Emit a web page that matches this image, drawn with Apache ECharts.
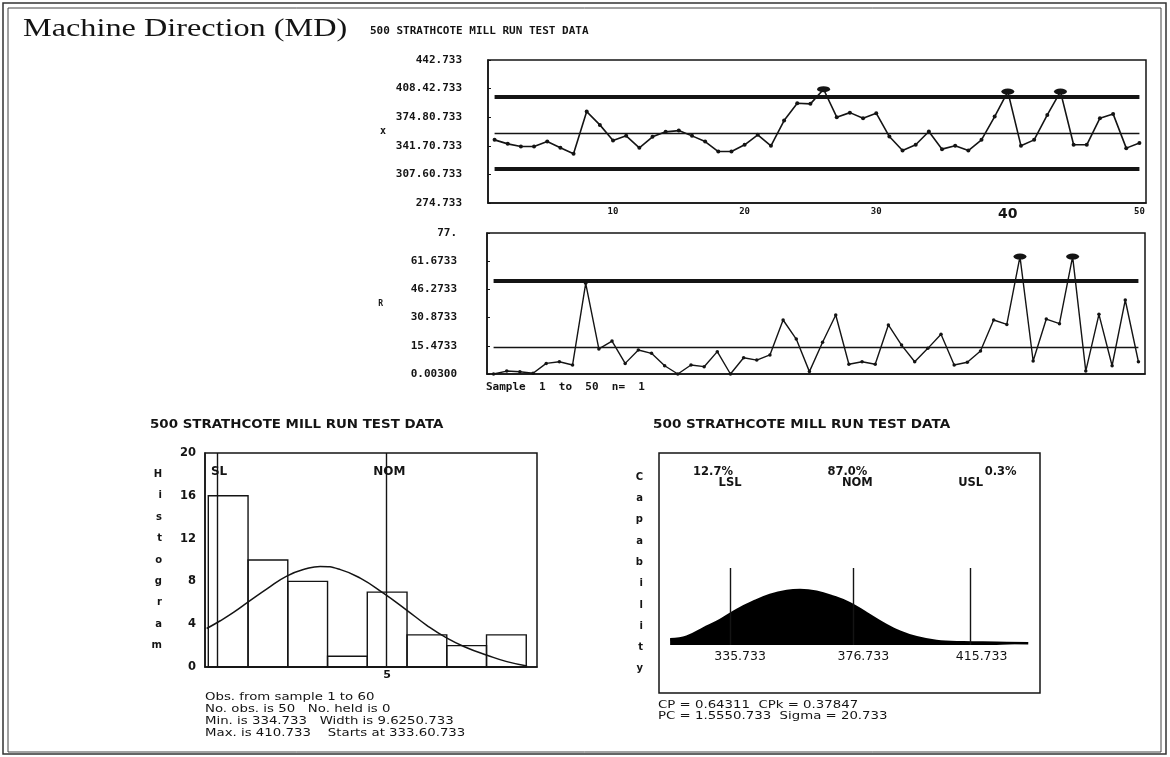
<!DOCTYPE html>
<html>
<head>
<meta charset="utf-8">
<script src="https://cdn.jsdelivr.net/npm/echarts@6/dist/echarts.min.js"></script>
<style>
html, body { margin: 0; padding: 0; background: #fff; }
#chart { width: 1170px; height: 757px; }
</style>
</head>
<body>
<div id="chart"></div>
<script>
// ---- Individuals (X) chart ----
const sampleNo = ['1','2','3','4','5','6','7','8','9','10','11','12','13','14','15','16','17','18','19','20',
  '21','22','23','24','25','26','27','28','29','30','31','32','33','34','35','36','37','38','39','40',
  '41','42','43','44','45','46','47','48','49','50'];
const xValues = [348.9, 344.2, 341.1, 341.1, 346.9, 339.6, 332.5, 382.1, 366.5, 348.1,
  353.6, 339.6, 352.5, 358.3, 359.8, 353.6, 346.9, 335.2, 335.2, 343.1,
  354.8, 341.9, 371.6, 391.9, 391.2, 408.4, 375.6, 380.9, 374.4, 380.2,
  352.8, 336.4, 343.1, 358.7, 338.0, 341.9, 336.4, 348.9, 376.3, 405.6,
  341.9, 348.9, 378.2, 405.6, 343.1, 343.1, 374.4, 379.4, 339.2, 345.1];
const xLimits = { ucl: 399.3, cl: 357.1, lcl: 314.9 };
const xTickValues = [274.733, 308.333, 341.933, 375.533, 409.133, 442.733];
const xTickLabels = ['274.733', '307.60.733', '341.70.733', '374.80.733', '408.42.733', '442.733'];

// ---- Moving range (R) chart ----
const mrValues = [0, 1.6, 1.2, 0.4, 5.8, 6.7, 4.9, 49.5, 13.7, 18.0,
  5.8, 13.1, 11.3, 4.5, 0, 4.9, 4.0, 12.2, 0, 8.9,
  7.6, 10.4, 29.5, 19.1, 1.3, 17.3, 32.2, 5.3, 6.7, 5.3,
  26.8, 15.8, 6.7, 14.0, 21.7, 4.9, 6.4, 12.6, 29.5, 27.1,
  64.1, 7.1, 30.0, 27.5, 64.1, 1.6, 32.6, 4.5, 40.4, 6.7];
const rLimits = { ucl: 50.8, cl: 14.5 };
const rTickValues = [0, 15.4, 30.8, 46.2, 61.6, 77];
const rTickLabels = ['0.00300', '15.4733', '30.8733', '46.2733', '61.6733', '77.'];

// ---- Histogram ----
const histStart = 333.60;
const histWidth = 9.625;
const histCounts = [16, 10, 8, 1, 7, 3, 2, 3];
const fitCurveX = [333.2, 336.4, 339.7, 343.7, 347.8, 352.6, 357.5, 360.7, 365.6, 370.4,
  376.0, 381.7, 386.5, 391.4, 396.2, 401.1, 405.9, 410.8];
const fitCurveY = [3.6, 4.3, 5.1, 6.2, 7.3, 8.5, 9.2, 9.4, 9.1, 8.3,
  6.9, 5.3, 3.9, 2.7, 1.8, 1.1, 0.5, 0.1];

// ---- Specification limits ----
const specLSL = 335.733;
const specNOM = 376.733;
const specUSL = 415.733;
const specPct = ['12.7%', '87.0%', '0.3%'];

// ---- Capability curve ----
const capX = [315.8, 321.3, 326.9, 332.4, 337.9, 343.5, 349.0, 354.6, 359.0, 364.5,
  370.1, 375.6, 381.2, 386.7, 392.2, 397.8, 404.4, 413.3, 424.4, 434.9];
const capH = [5.7, 8.3, 16.7, 25, 35, 43.3, 50, 54, 55, 53.3,
  48.3, 41.7, 31.7, 21.7, 13.3, 7.7, 4, 2.7, 2.3, 1.7];

const statsLines = [
  'Obs. from sample 1 to 60',
  'No. obs. is 50   No. held is 0',
  'Min. is 334.733   Width is 9.6250.733',
  'Max. is 410.733    Starts at 333.60.733'
];
const capLines = [
  'CP = 0.64311  CPk = 0.37847',
  'PC = 1.5550.733  Sigma = 20.733'
];
const chartTitle = '500 STRATHCOTE MILL RUN TEST DATA';

const INK = '#141414';
const MONO = '"DejaVu Sans Mono", monospace';
const SANS = '"DejaVu Sans", sans-serif';

function tickLabel(values, labels) {
  return function (v) {
    let best = 0;
    for (let i = 1; i < values.length; i++) {
      if (Math.abs(values[i] - v) < Math.abs(values[best] - v)) best = i;
    }
    return labels[best];
  };
}

function hLine(cat0, cat1, y, width) {
  return [{ coord: [cat0, y], lineStyle: { width: width, color: INK, type: 'solid' } }, { coord: [cat1, y] }];
}

function vLine(x, y0, y1) {
  return [{ coord: [x, y0] }, { coord: [x, y1] }];
}

const chart = echarts.init(document.getElementById('chart'), null, { renderer: 'canvas' });

// plain text; sx stretches the glyphs horizontally (the printout uses wide type)
const textEl = (x, y, text, font, sx) => ({
  type: 'text', x: x, y: y, scaleX: sx || 1, silent: true,
  style: { text: text, font: font, fill: INK, textAlign: 'left', textVerticalAlign: 'middle' }
});

const graphic = [
  { type: 'rect', shape: { x: 3, y: 3, width: 1163, height: 751 }, style: { fill: 'none', stroke: '#333', lineWidth: 1.5 }, silent: true },
  { type: 'rect', shape: { x: 8, y: 8, width: 1153, height: 744 }, style: { fill: 'none', stroke: '#444', lineWidth: 1 }, silent: true },
  textEl(23, 29, 'Machine Direction (MD)', '25px "Liberation Serif", serif', 1.29),
  textEl(370, 31, chartTitle, 'bold 11px ' + MONO),
  textEl(486, 387, 'Sample  1  to  50  n=  1', 'bold 11px ' + MONO),
  textEl(150, 425, chartTitle, 'bold 11.5px ' + SANS, 1.165),
  textEl(653, 425, chartTitle, 'bold 11.5px ' + SANS, 1.18)
];
statsLines.forEach((t, i) => graphic.push(textEl(205, 697 + i * 12, t, '11px ' + SANS, 1.21)));
capLines.forEach((t, i) => graphic.push(textEl(658, 705 + i * 11.5, t, '11px ' + SANS, 1.21)));

const markFont = { color: INK, fontFamily: SANS, fontSize: 11.5, fontWeight: 'bold' };

const option = {
  animation: false,
  backgroundColor: '#fff',
  graphic: graphic,
  grid: [
    { left: 488, top: 60, width: 658, height: 143, show: true, borderColor: INK, borderWidth: 1.5, backgroundColor: 'transparent' },
    { left: 487, top: 233, width: 658, height: 141, show: true, borderColor: INK, borderWidth: 1.5, backgroundColor: 'transparent' },
    { left: 205, top: 453, width: 332, height: 214, show: true, borderColor: INK, borderWidth: 1.5, backgroundColor: 'transparent' },
    { left: 659, top: 453, width: 381, height: 240, show: true, borderColor: INK, borderWidth: 1.5, backgroundColor: 'transparent' }
  ],
  xAxis: [
    {
      gridIndex: 0, type: 'category', data: sampleNo, boundaryGap: true,
      axisLine: { lineStyle: { color: INK, width: 1.5 } },
      axisTick: { show: false },
      axisLabel: {
        interval: (i) => (i + 1) % 10 === 0, margin: 4, color: INK,
        fontFamily: MONO, fontSize: 9, fontWeight: 'bold',
        formatter: (v) => v === '40' ? '{big|' + v + '}' : v,
        rich: { big: { fontFamily: SANS, fontSize: 14, fontWeight: 'bold', color: INK } }
      },
      splitLine: { show: false }
    },
    {
      gridIndex: 1, type: 'category', data: sampleNo, boundaryGap: true,
      axisLine: { lineStyle: { color: INK, width: 1.5 } },
      axisTick: { show: false }, axisLabel: { show: false }, splitLine: { show: false }
    },
    {
      gridIndex: 2, type: 'value', min: 332.8, max: 413.2,
      axisLine: { lineStyle: { color: INK, width: 1.5 } },
      axisTick: { show: false },
      axisLabel: {
        customValues: [histStart + 4.5 * histWidth], formatter: () => '5',
        margin: 3, color: INK, fontFamily: SANS, fontSize: 11, fontWeight: 'bold'
      },
      splitLine: { show: false }
    },
    {
      gridIndex: 3, type: 'value', min: 312.1, max: 438.8,
      axisLine: { show: false }, axisTick: { show: false }, axisLabel: { show: false }, splitLine: { show: false }
    }
  ],
  yAxis: [
    {
      gridIndex: 0, type: 'value', min: 274.733, max: 442.733,
      name: 'x', nameLocation: 'middle', nameRotate: 0, nameGap: 102,
      nameTextStyle: { fontFamily: MONO, fontSize: 10, fontWeight: 'bold', color: INK },
      axisLine: { show: true, lineStyle: { color: INK, width: 1.5 } },
      axisTick: { show: true, inside: true, length: 3, customValues: xTickValues, lineStyle: { color: INK } },
      axisLabel: {
        customValues: xTickValues, formatter: tickLabel(xTickValues, xTickLabels),
        margin: 26, color: INK, fontFamily: MONO, fontSize: 11, fontWeight: 'bold'
      },
      splitLine: { show: false }
    },
    {
      gridIndex: 1, type: 'value', min: 0, max: 77,
      name: 'R', nameLocation: 'middle', nameRotate: 0, nameGap: 104,
      nameTextStyle: { fontFamily: MONO, fontSize: 8, fontWeight: 'bold', color: INK },
      axisLine: { show: true, lineStyle: { color: INK, width: 1.5 } },
      axisTick: { show: true, inside: true, length: 3, customValues: rTickValues, lineStyle: { color: INK } },
      axisLabel: {
        customValues: rTickValues, formatter: tickLabel(rTickValues, rTickLabels),
        margin: 30, color: INK, fontFamily: MONO, fontSize: 11, fontWeight: 'bold'
      },
      splitLine: { show: false }
    },
    {
      gridIndex: 2, type: 'value', min: 0, max: 20, interval: 4,
      name: 'H\ni\ns\nt\no\ng\nr\na\nm', nameLocation: 'middle', nameRotate: 0, nameGap: 43,
      nameTextStyle: { fontFamily: SANS, fontSize: 10, fontWeight: 'bold', color: INK, lineHeight: 21.4 },
      axisLine: { show: true, lineStyle: { color: INK, width: 1.5 } },
      axisTick: { show: false },
      axisLabel: { margin: 9, color: INK, fontFamily: SANS, fontSize: 11.5, fontWeight: 'bold' },
      splitLine: { show: false }
    },
    {
      gridIndex: 3, type: 'value', min: -48, max: 192,
      name: 'C\na\np\na\nb\ni\nl\ni\nt\ny', nameLocation: 'middle', nameRotate: 0, nameGap: 16,
      nameTextStyle: { fontFamily: SANS, fontSize: 10, fontWeight: 'bold', color: INK, lineHeight: 21.3 },
      axisLine: { show: false }, axisTick: { show: false }, axisLabel: { show: false }, splitLine: { show: false }
    }
  ],
  series: [
    {
      name: 'X', type: 'line', xAxisIndex: 0, yAxisIndex: 0, data: xValues,
      showAllSymbol: true, symbol: 'circle',
      symbolSize: (v) => v > xLimits.ucl ? [13, 6] : 4,
      lineStyle: { color: INK, width: 1.6 }, itemStyle: { color: INK },
      markLine: {
        silent: true, symbol: ['none', 'none'], label: { show: false },
        data: [
          hLine(sampleNo[0], sampleNo[49], xLimits.ucl, 4),
          hLine(sampleNo[0], sampleNo[49], xLimits.cl, 1.3),
          hLine(sampleNo[0], sampleNo[49], xLimits.lcl, 4)
        ]
      },
      z: 3
    },
    {
      name: 'R', type: 'line', xAxisIndex: 1, yAxisIndex: 1, data: mrValues,
      showAllSymbol: true, symbol: 'circle',
      symbolSize: (v) => v > rLimits.ucl ? [13, 6] : 3.5,
      lineStyle: { color: INK, width: 1.4 }, itemStyle: { color: INK },
      markLine: {
        silent: true, symbol: ['none', 'none'], label: { show: false },
        data: [
          hLine(sampleNo[0], sampleNo[49], rLimits.ucl, 4),
          hLine(sampleNo[0], sampleNo[49], rLimits.cl, 1.3)
        ]
      },
      z: 3
    },
    {
      name: 'bins', type: 'custom', xAxisIndex: 2, yAxisIndex: 2,
      data: histCounts.map((c, i) => [histStart + i * histWidth, c]),
      renderItem: function (params, api) {
        const p0 = api.coord([api.value(0), api.value(1)]);
        const p1 = api.coord([api.value(0) + histWidth, 0]);
        return {
          type: 'rect',
          shape: { x: p0[0], y: p0[1], width: p1[0] - p0[0], height: p1[1] - p0[1] },
          style: { fill: 'none', stroke: INK, lineWidth: 1.4 }
        };
      }
    },
    {
      name: 'fit', type: 'line', xAxisIndex: 2, yAxisIndex: 2,
      data: fitCurveX.map((x, i) => [x, fitCurveY[i]]),
      smooth: 0.5, symbol: 'none', lineStyle: { color: INK, width: 1.5 },
      markLine: {
        silent: true, symbol: ['none', 'none'], label: { show: false },
        lineStyle: { color: INK, width: 1.4, type: 'solid' },
        data: [{ xAxis: specLSL }, { xAxis: specNOM }]
      },
      markPoint: {
        silent: true, symbol: 'rect', symbolSize: 0,
        label: Object.assign({ show: true, position: 'inside' }, markFont, { fontSize: 12 }),
        data: [
          { coord: [specLSL, 18.25], label: { offset: [2, 0], formatter: 'SL' } },
          { coord: [specNOM, 18.25], label: { offset: [3, 0], formatter: 'NOM' } }
        ]
      }
    },
    {
      name: 'capability', type: 'line', xAxisIndex: 3, yAxisIndex: 3,
      data: capX.map((x, i) => [x, capH[i]]),
      smooth: 0.4, symbol: 'none',
      lineStyle: { color: '#000', width: 2.5 },
      areaStyle: { color: '#000', opacity: 1, origin: 0 },
      markLine: {
        silent: true, symbol: ['none', 'none'], label: { show: false },
        lineStyle: { color: INK, width: 1.4, type: 'solid' },
        data: [vLine(specLSL, 0, 77), vLine(specNOM, 0, 77), vLine(specUSL, 0, 77)]
      },
      markPoint: {
        silent: true, symbol: 'rect', symbolSize: 0,
        label: Object.assign({ show: true, position: 'inside' }, markFont),
        data: [
          { coord: [specLSL, 173.3], label: { offset: [-17, 0], formatter: specPct[0] } },
          { coord: [specNOM, 173.3], label: { offset: [-6, 0], formatter: specPct[1] } },
          { coord: [specUSL, 173.3], label: { offset: [30, 0], formatter: specPct[2] } },
          { coord: [specLSL, 161.7], label: { offset: [0, 0], formatter: 'LSL' } },
          { coord: [specNOM, 161.7], label: { offset: [4, 0], formatter: 'NOM' } },
          { coord: [specUSL, 161.7], label: { offset: [0, 0], formatter: 'USL' } },
          { coord: [specLSL, -11.7], label: { offset: [10, 0], formatter: String(specLSL), fontSize: 12.5, fontWeight: 'normal' } },
          { coord: [specNOM, -11.7], label: { offset: [10, 0], formatter: String(specNOM), fontSize: 12.5, fontWeight: 'normal' } },
          { coord: [specUSL, -11.7], label: { offset: [11, 0], formatter: String(specUSL), fontSize: 12.5, fontWeight: 'normal' } }
        ]
      }
    }
  ]
};

chart.setOption(option);
</script>
</body>
</html>
